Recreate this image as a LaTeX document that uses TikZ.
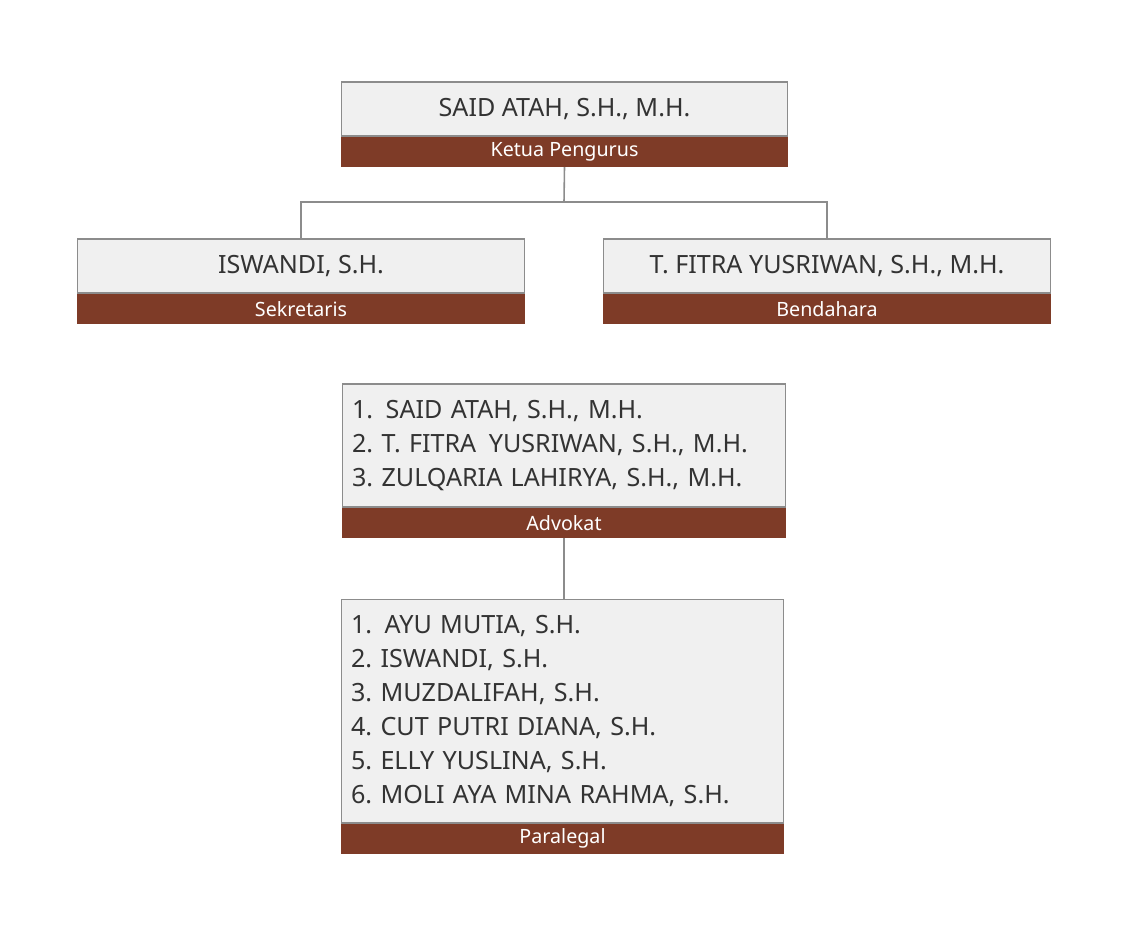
\documentclass[tikz,border=0pt]{standalone}
\usepackage{fontspec}
\setmainfont{Noto Sans}
\usetikzlibrary{positioning, calc}
\frenchspacing

\definecolor{boxgray}{HTML}{F0F0F0}
\definecolor{boxline}{HTML}{8C8C8C}
\definecolor{barbrown}{HTML}{7E3B27}
\definecolor{nametext}{HTML}{333333}

\begin{document}
\begin{tikzpicture}[
    x=0.02cm, y=-0.02cm,
    every node/.style={align=center},
    namebox/.style={draw=boxline, line width=0.6pt, fill=boxgray, text=nametext,
        minimum height=1.08cm, inner sep=0pt, font=\fontsize{14.3}{19.3}\selectfont},
    listbox/.style={namebox, align=left, inner xsep=0.2cm},
    rolebar/.style={fill=barbrown, text=white, minimum height=0.6cm, inner sep=0pt,
        font=\fontsize{11.2}{13}\selectfont},
    conn/.style={draw=boxline, line width=0.9pt}
]
\useasboundingbox (0,0) rectangle (1129,936);

% Ketua
\node[namebox, minimum width=8.94cm] (ketua) at (564.5,109) {SAID ATAH, S.H., M.H.};
\node[rolebar, minimum width=8.94cm, below=0pt of ketua] (ketuabar) {Ketua Pengurus};

% Sekretaris dan Bendahara
\node[namebox, minimum width=8.96cm] (sekretaris) at (301,266) {ISWANDI, S.H.};
\node[rolebar, minimum width=8.96cm, below=0pt of sekretaris] (sekretarisbar) {Sekretaris};

\node[namebox, minimum width=8.96cm] (bendahara) at (827,266) {T. FITRA YUSRIWAN, S.H., M.H.};
\node[rolebar, minimum width=8.96cm, below=0pt of bendahara] (bendaharabar) {Bendahara};

\coordinate (split) at (564,202);
\draw[conn] (ketuabar.south) -- (split);
\draw[conn] (split) -| (sekretaris.north);
\draw[conn] (split) -| (bendahara.north);

% Advokat
\node[listbox, minimum width=8.88cm, minimum height=2.46cm, text width=8.48cm] (advokat) at (564,445.5) {%
    1.\hspace{0.5em}SAID ATAH, S.H., M.H.\\
    2. T. FITRA\hspace{0.5em}YUSRIWAN, S.H., M.H.\\
    3. ZULQARIA LAHIRYA, S.H., M.H.};
\node[rolebar, minimum width=8.88cm, below=0pt of advokat] (advokatbar) {Advokat};

% Paralegal
\node[listbox, minimum width=8.86cm, minimum height=4.48cm, text width=8.46cm] (paralegal) at (562.5,711) {%
    1.\hspace{0.5em}AYU MUTIA, S.H.\\
    2. ISWANDI, S.H.\\
    3. MUZDALIFAH, S.H.\\
    4. CUT PUTRI DIANA, S.H.\\
    5. ELLY YUSLINA, S.H.\\
    6. MOLI AYA MINA RAHMA, S.H.};
\node[rolebar, minimum width=8.86cm, below=0pt of paralegal] (paralegalbar) {Paralegal};

\draw[conn] (advokatbar.south) -- (advokatbar.south |- paralegal.north);

\end{tikzpicture}
\end{document}
